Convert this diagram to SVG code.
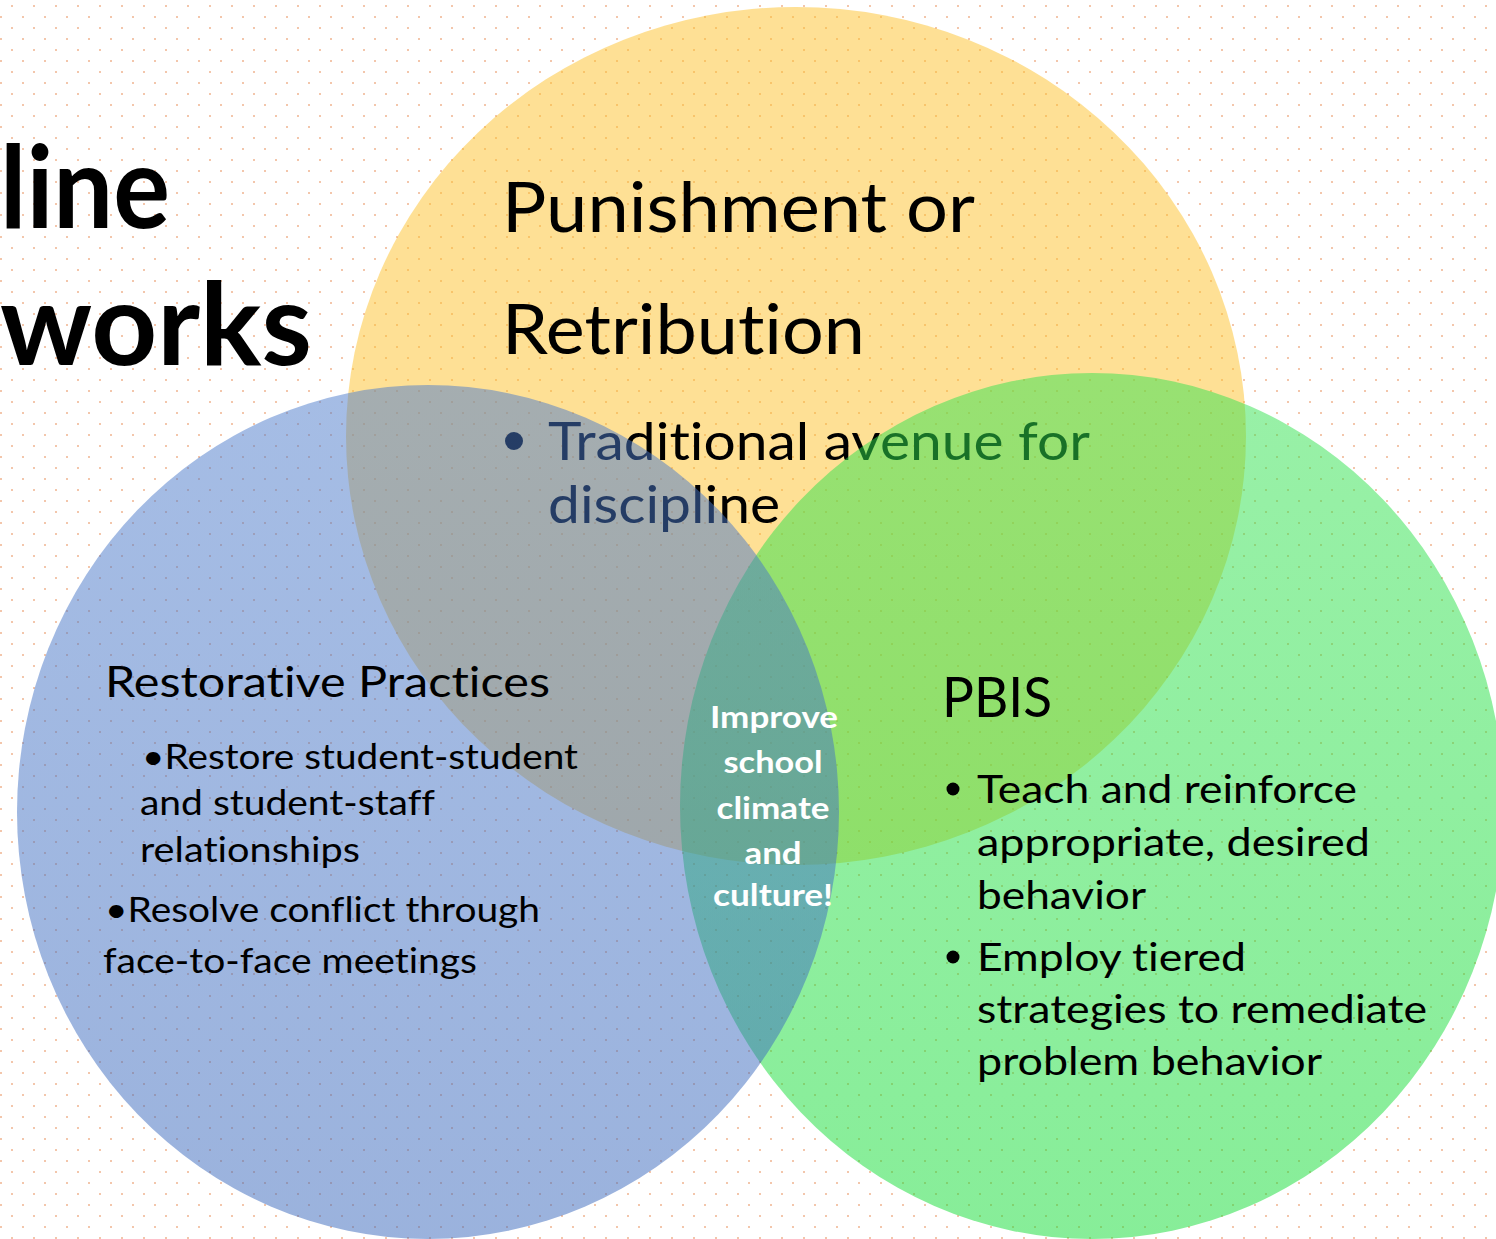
<svg xmlns="http://www.w3.org/2000/svg" width="1496" height="1239" viewBox="0 0 1496 1239">
<defs>
<pattern id="dots" width="22" height="22" patternUnits="userSpaceOnUse">
<rect x="11" y="5" width="2" height="2" fill="#f3c6ab"/>
<rect x="0" y="16" width="2" height="2" fill="#f3c6ab"/>
</pattern>
<linearGradient id="gBlue" x1="0" y1="0" x2="0" y2="1">
<stop offset="0" stop-color="#4c7bcb"/>
<stop offset="1" stop-color="#3766bb"/>
</linearGradient>
<linearGradient id="gGreen" x1="0" y1="0" x2="0" y2="1">
<stop offset="0" stop-color="#33e250"/>
<stop offset="1" stop-color="#10dc33"/>
</linearGradient>
<style>
.t{font-family:Lato,"Open Sans","Liberation Sans",sans-serif;fill:#000;font-variant-ligatures:none}
.b{font-weight:bold}
.w{fill:#fff;font-weight:bold;text-anchor:middle}
</style>
</defs>
<rect width="1496" height="1239" fill="#fff"/>
<rect width="1496" height="1239" fill="url(#dots)"/>

<g id="title">
<text class="t b" x="0" y="228" font-size="115" textLength="170" lengthAdjust="spacingAndGlyphs">line</text>
<text class="t b" x="0" y="365" font-size="115" textLength="312" lengthAdjust="spacingAndGlyphs">works</text>
</g>

<g id="punishment">
<ellipse cx="796" cy="436" rx="450" ry="429" fill="#fdc22b" fill-opacity="0.5"/>
<text class="t" x="502" y="232" font-size="70" textLength="473" lengthAdjust="spacingAndGlyphs">Punishment or</text>
<text class="t" x="502" y="354" font-size="70" textLength="363" lengthAdjust="spacingAndGlyphs">Retribution</text>
<circle cx="514" cy="441" r="9" fill="#000"/>
<text class="t" x="548" y="460" font-size="52" textLength="542" lengthAdjust="spacingAndGlyphs">Traditional avenue for</text>
<text class="t" x="548" y="523" font-size="52" textLength="232" lengthAdjust="spacingAndGlyphs">discipline</text>
</g>

<g id="pbis">
<ellipse cx="1092" cy="806" rx="412" ry="433" fill="url(#gGreen)" fill-opacity="0.5"/>
<text class="t" x="942" y="717" font-size="57" textLength="110" lengthAdjust="spacingAndGlyphs">PBIS</text>
<circle cx="953" cy="789" r="6.5" fill="#000"/>
<text class="t" x="977" y="803" font-size="39" textLength="380" lengthAdjust="spacingAndGlyphs">Teach and reinforce</text>
<text class="t" x="977" y="856" font-size="39" textLength="393" lengthAdjust="spacingAndGlyphs">appropriate, desired</text>
<text class="t" x="977" y="909" font-size="39" textLength="169" lengthAdjust="spacingAndGlyphs">behavior</text>
<circle cx="953" cy="957" r="6.5" fill="#000"/>
<text class="t" x="977" y="971" font-size="39" textLength="269" lengthAdjust="spacingAndGlyphs">Employ tiered</text>
<text class="t" x="977" y="1023" font-size="39" textLength="450" lengthAdjust="spacingAndGlyphs">strategies to remediate</text>
<text class="t" x="977" y="1075" font-size="39" textLength="345" lengthAdjust="spacingAndGlyphs">problem behavior</text>
</g>

<g id="restorative">
<ellipse cx="428" cy="812" rx="411" ry="427" fill="url(#gBlue)" fill-opacity="0.5"/>
<text class="t" x="105" y="697" font-size="43" textLength="445" lengthAdjust="spacingAndGlyphs">Restorative Practices</text>
<text class="t" x="142" y="769" font-size="34" textLength="436" lengthAdjust="spacingAndGlyphs">•Restore student-student</text>
<text class="t" x="140" y="815" font-size="34" textLength="295" lengthAdjust="spacingAndGlyphs">and student-staff</text>
<text class="t" x="140" y="862" font-size="34" textLength="220" lengthAdjust="spacingAndGlyphs">relationships</text>
<text class="t" x="105" y="922" font-size="34" textLength="435" lengthAdjust="spacingAndGlyphs">•Resolve conflict through</text>
<text class="t" x="103" y="973" font-size="34" textLength="374" lengthAdjust="spacingAndGlyphs">face-to-face meetings</text>
</g>

<g id="center">
<text class="t w" x="774" y="728" font-size="31" textLength="128" lengthAdjust="spacingAndGlyphs">Improve</text>
<text class="t w" x="773" y="773" font-size="31" textLength="99" lengthAdjust="spacingAndGlyphs">school</text>
<text class="t w" x="773" y="819" font-size="31" textLength="113" lengthAdjust="spacingAndGlyphs">climate</text>
<text class="t w" x="773" y="864" font-size="31" textLength="57" lengthAdjust="spacingAndGlyphs">and</text>
<text class="t w" x="773" y="906" font-size="31" textLength="120" lengthAdjust="spacingAndGlyphs">culture!</text>
</g>
</svg>
